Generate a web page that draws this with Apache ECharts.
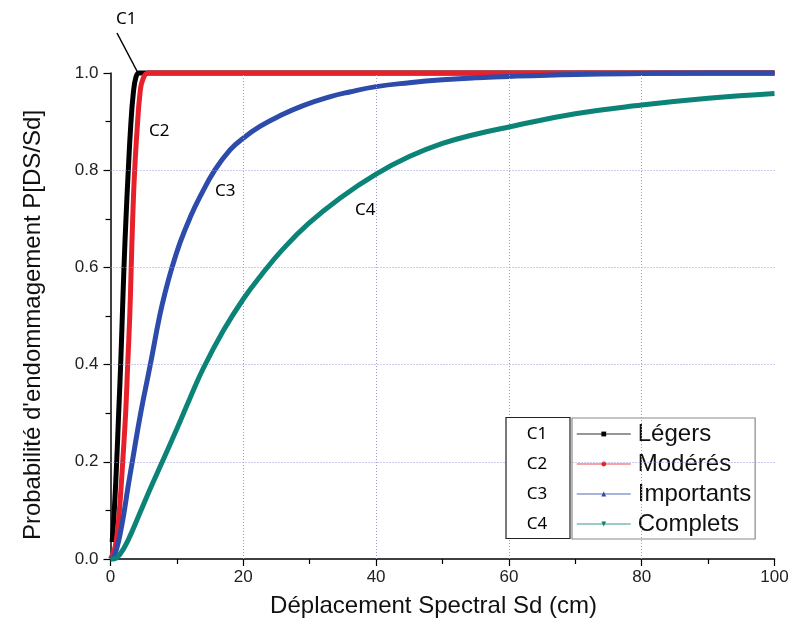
<!DOCTYPE html>
<html>
<head>
<meta charset="utf-8">
<script src="https://cdn.jsdelivr.net/npm/echarts@6/dist/echarts.min.js"></script>
<style>
  html, body { margin: 0; padding: 0; background: #fff; }
  #chart { width: 792px; height: 623px; }
</style>
</head>
<body>
<div id="chart"></div>
<script>
// courbes de fragilité (Sd en cm, probabilité)
const legersX = [0.25, 0.55, 0.93, 1.23, 1.53, 1.78, 2.03, 2.33, 2.68, 3.04, 3.43, 3.84, 4.3, 5, 100];
const legersY = [0.035, 0.095, 0.2, 0.3, 0.4, 0.5, 0.6, 0.7, 0.8, 0.89, 0.958, 0.992, 1.0, 1.0, 1.0];

const moderesX = [0, 0.33, 0.7, 1.02, 1.4, 1.84, 2.28, 2.59, 2.9, 3.12, 3.34, 3.64, 4.04, 4.44, 4.85, 5.7, 100];
const moderesY = [0, 0.01, 0.025, 0.054, 0.11, 0.2, 0.3, 0.4, 0.5, 0.6, 0.7, 0.8, 0.89, 0.958, 0.986, 1.0, 1.0];

const importantsX = [0, 0.5, 1.02, 1.5, 2.03, 2.6, 3.28, 4.54, 6.0, 7.4, 8.3, 9.2, 10.5, 12, 13.5, 15.7, 18, 20, 22.5, 25.5, 29, 33, 36, 40, 45, 50, 55, 60, 70, 80, 90, 100];
const importantsY = [0, 0.005, 0.026, 0.055, 0.095, 0.145, 0.2, 0.3, 0.4, 0.5, 0.552, 0.597, 0.652, 0.703, 0.746, 0.8, 0.842, 0.866, 0.89, 0.912, 0.933, 0.951, 0.961, 0.972, 0.98, 0.986, 0.99, 0.993, 0.997, 0.999, 1.0, 1.0];

const completsX = [0, 0.5, 1.43, 2.69, 4.44, 6, 7.8, 10, 12, 14, 17, 20, 22.8, 26, 29.8, 34.6, 40, 45, 50, 55, 60, 70, 80, 90, 100];
const completsY = [0, 0, 0.01, 0.04, 0.095, 0.145, 0.2, 0.268, 0.332, 0.393, 0.47, 0.535, 0.586, 0.638, 0.69, 0.743, 0.792, 0.828, 0.855, 0.874, 0.889, 0.916, 0.934, 0.948, 0.958];

const names = ['Légers', 'Modérés', 'Importants', 'Complets'];
const colors = ['#000000', '#e8202a', '#2c4bab', '#0c8377'];
const symbols = ['rect', 'circle', 'triangle', 'path://M0,0 L10,0 L5,10 Z'];
const gridX = [20, 40, 60, 80];
const gridY = [0.2, 0.4, 0.6, 0.8];

const pairs = (xs, ys) => xs.map((x, i) => [x, ys[i]]);
const curves = [
  pairs(legersX, legersY),
  pairs(moderesX, moderesY),
  pairs(importantsX, importantsY),
  pairs(completsX, completsY)
];

const font = 'Liberation Sans, Arial, sans-serif';
const dotted = { color: '#9a9ad6', width: 1, type: [1, 2] };

const series = [{
  // lignes de grille pointillées (sans ligne à x=100)
  name: 'grille',
  type: 'line',
  data: [],
  silent: true,
  z: 1,
  markLine: {
    silent: true,
    symbol: 'none',
    animation: false,
    label: { show: false },
    lineStyle: dotted,
    data: gridX.map(v => ({ xAxis: v })).concat(gridY.map(v => ({ yAxis: v })))
  }
}];

curves.forEach((d, i) => {
  series.push({
    name: names[i],
    type: 'line',
    data: d,
    smooth: 0.45,
    showSymbol: false,
    symbol: symbols[i],
    clip: false,
    z: 2 + i,
    lineStyle: { color: colors[i], width: 5 },
    itemStyle: { color: colors[i] }
  });
});

const labelStyle = { fontFamily: 'Noto Sans, sans-serif', fontSize: 17, fill: '#000' };
const rows = [434.3, 463.8, 493.8, 524];

const graphic = [
  {
    type: 'text', x: 33, y: 325, rotation: Math.PI / 2,
    style: { text: "Probabilité d'endommagement P[DS/Sd]", fontFamily: font, fontSize: 24, fill: '#111', align: 'center', verticalAlign: 'middle' }
  },
  { type: 'text', left: 116, top: 11, style: Object.assign({ text: 'C1' }, labelStyle) },
  { type: 'line', shape: { x1: 117, y1: 33, x2: 138, y2: 73 }, style: { stroke: '#000', lineWidth: 1.5 } },
  { type: 'text', left: 149, top: 123, style: Object.assign({ text: 'C2' }, labelStyle) },
  { type: 'text', left: 215, top: 183, style: Object.assign({ text: 'C3' }, labelStyle) },
  { type: 'text', left: 355, top: 202, style: Object.assign({ text: 'C4' }, labelStyle) },
  { type: 'rect', shape: { x: 506, y: 417.5, width: 64, height: 121 }, style: { fill: '#fff', stroke: '#222', lineWidth: 1.2 }, z: 10 }
];
['C1', 'C2', 'C3', 'C4'].forEach((t, i) => {
  graphic.push({
    type: 'text', x: 537, y: rows[i], z: 11,
    style: Object.assign({ text: t, align: 'center', verticalAlign: 'middle' }, labelStyle)
  });
});

const option = {
  animation: false,
  backgroundColor: '#fff',
  grid: { left: 110.5, right: 17.5, top: 73, bottom: 63.5 },
  legend: {
    data: names,
    orient: 'vertical',
    left: 572,
    top: 418,
    padding: [1, 4, 0, 4],
    itemGap: 0,
    itemWidth: 54,
    itemHeight: 6,
    backgroundColor: '#fff',
    borderColor: '#8a8a8a',
    borderWidth: 1.2,
    lineStyle: { width: 1.5, opacity: 0.55 },
    textStyle: { fontFamily: font, fontSize: 24, color: '#111', lineHeight: 30, padding: [0, 0, 0, 2] },
    selectedMode: false
  },
  xAxis: {
    type: 'value',
    min: 0,
    max: 100,
    interval: 20,
    name: 'Déplacement Spectral Sd (cm)',
    nameLocation: 'middle',
    nameGap: 35,
    nameTextStyle: { fontFamily: font, fontSize: 24, color: '#111', padding: [0, 18, 0, 0] },
    axisLine: { show: true, lineStyle: { color: '#000', width: 1.5 } },
    axisTick: { show: true, length: 7, lineStyle: { color: '#000', width: 1.2 } },
    minorTick: { show: true, splitNumber: 2, length: 5, lineStyle: { color: '#000', width: 1.2 } },
    axisLabel: { fontFamily: font, fontSize: 17, color: '#222', margin: 10 },
    splitLine: { show: false }
  },
  yAxis: {
    type: 'value',
    min: 0,
    max: 1,
    interval: 0.2,
    axisLine: { show: true, lineStyle: { color: '#000', width: 1.5 } },
    axisTick: { show: true, length: 7, lineStyle: { color: '#000', width: 1.2 } },
    minorTick: { show: true, splitNumber: 2, length: 5, lineStyle: { color: '#000', width: 1.2 } },
    axisLabel: { fontFamily: font, fontSize: 17, color: '#222', margin: 12, formatter: v => v.toFixed(1) },
    splitLine: { show: false }
  },
  graphic: graphic,
  series: series
};

const chart = echarts.init(document.getElementById('chart'));
chart.setOption(option);
</script>
</body>
</html>
